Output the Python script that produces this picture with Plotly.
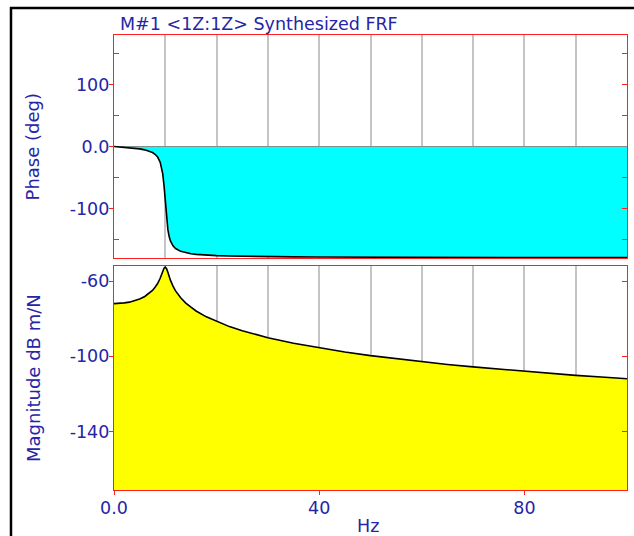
import plotly.graph_objects as go

# ---- data ----
freq_hz = [0, 1, 2, 3, 4, 5, 6, 7, 7.5, 8, 8.5, 9, 9.25, 9.5, 9.75, 10, 10.25, 10.5,
           10.75, 11, 11.5, 12, 13, 14, 15, 16, 18, 20, 22.5, 25, 27.5, 30, 35, 40,
           45, 50, 55, 60, 65, 70, 75, 80, 85, 90, 95, 100]
phase_deg = [0.0, -0.6, -1.2, -1.9, -2.7, -3.8, -5.4, -7.8, -9.7, -12.5, -17.0, -25.3,
             -32.6, -44.3, -63.1, -90.0, -116.3, -134.3, -145.4, -152.4, -160.4, -164.7,
             -169.3, -171.7, -173.2, -174.1, -175.4, -176.2, -176.8, -177.3, -177.6,
             -177.9, -178.2, -178.5, -178.7, -178.8, -178.9, -179.0, -179.1, -179.2,
             -179.2, -179.3, -179.3, -179.4, -179.4, -179.4]
magnitude_db = [-72.0, -71.9, -71.6, -71.2, -70.5, -69.5, -68.2, -66.2, -65.0, -63.3,
                -61.3, -58.5, -56.7, -54.7, -53.2, -52.6, -53.4, -55.3, -57.5, -59.5,
                -62.7, -65.2, -68.9, -71.7, -73.9, -75.9, -79.0, -81.5, -84.2, -86.4,
                -88.3, -90.1, -93.0, -95.5, -97.7, -99.6, -101.3, -102.9, -104.3,
                -105.6, -106.8, -108.0, -109.1, -110.1, -111.0, -111.9]

x_tick_vals = [0, 40, 80]
x_tick_text = ["0.0", "40", "80"]
phase_tick_vals = [-100, 0, 100]
phase_tick_text = ["-100", "0.0", "100"]
phase_minor_vals = [-150, -50, 50, 150]
phase_right_vals = [-150, -100, -50, 50, 100, 150]
mag_tick_vals = [-140, -100, -60]
mag_tick_text = ["-140", "-100", "-60"]

title_text = "M#1 <1Z:1Z> Synthesized FRF"
phase_label = "Phase (deg)"
mag_label = "Magnitude dB m/N"
x_label = "Hz"

X_RANGE = [0, 100]
PHASE_RANGE = [-180, 180]
MAG_RANGE = [-171, -52]

BLUE = "#2525a6"
RED = "#ff2020"
GRID = "#c4c4c4"
FONT = "DejaVu Sans"

fig = go.Figure()

# phase (top)
fig.add_trace(go.Scatter(x=freq_hz, y=phase_deg, mode="lines", fill="tozeroy",
                         fillcolor="#00ffff", line=dict(color="black", width=1.6),
                         xaxis="x", yaxis="y", showlegend=False, hoverinfo="skip"))
# magnitude (bottom) filled down to the axis floor
fig.add_trace(go.Scatter(x=[freq_hz[0], freq_hz[-1]], y=[MAG_RANGE[0]] * 2, mode="lines",
                         line=dict(width=0, color="rgba(0,0,0,0)"),
                         xaxis="x2", yaxis="y2", showlegend=False, hoverinfo="skip"))
fig.add_trace(go.Scatter(x=freq_hz, y=magnitude_db, mode="lines", fill="tonexty",
                         fillcolor="#ffff00", line=dict(color="black", width=1.6),
                         xaxis="x2", yaxis="y2", showlegend=False, hoverinfo="skip"))
# empty traces to activate right-hand tick axes
fig.add_trace(go.Scatter(x=[None], y=[None], xaxis="x", yaxis="y3", showlegend=False))
fig.add_trace(go.Scatter(x=[None], y=[None], xaxis="x2", yaxis="y4", showlegend=False))

tickfont = dict(family=FONT, size=17.5, color=BLUE)

common_x = dict(range=X_RANGE, showline=True, mirror=True, linecolor=RED, linewidth=1.2,
                showgrid=True, gridcolor=GRID, gridwidth=1.5, zeroline=False,
                tickvals=x_tick_vals, ticktext=x_tick_text, tickfont=tickfont,
                minor=dict(tickmode="linear", tick0=0, dtick=10, showgrid=True,
                           gridcolor=GRID, gridwidth=1.5, ticks=""))

fig.update_layout(
    width=634, height=536,
    margin=dict(l=114, r=7, t=35, b=46),
    paper_bgcolor="white", plot_bgcolor="white",
    showlegend=False,
    xaxis=dict(common_x, anchor="y", showticklabels=False, ticks=""),
    xaxis2=dict(common_x, anchor="y2", ticks="outside", ticklen=4, tickcolor=RED,
                tickwidth=1.2, ticklabelstandoff=-2),
    yaxis=dict(domain=[0.5099, 1], range=PHASE_RANGE, anchor="x",
               showline=True, mirror=True, linecolor=RED, linewidth=1.2,
               showgrid=False, zeroline=True, zerolinecolor=RED, zerolinewidth=1.2,
               tickvals=phase_tick_vals, ticktext=phase_tick_text, tickfont=tickfont,
               ticks="outside", ticklen=4, tickcolor=RED, tickwidth=1.2,
               ticklabelstandoff=-4,
               minor=dict(tickmode="array", tickvals=phase_minor_vals, ticks="inside",
                          ticklen=5, tickcolor=RED, tickwidth=1.2, showgrid=False)),
    yaxis2=dict(domain=[0, 0.4923], range=MAG_RANGE, anchor="x2",
                showline=True, mirror=True, linecolor=RED, linewidth=1.2,
                showgrid=False, zeroline=False,
                tickvals=mag_tick_vals, ticktext=mag_tick_text, tickfont=tickfont,
                ticks="outside", ticklen=4, tickcolor=RED, tickwidth=1.2,
                ticklabelstandoff=-4),
    yaxis3=dict(overlaying="y", side="right", anchor="x", range=PHASE_RANGE,
                tickvals=phase_right_vals, ticks="inside", ticklen=5, tickcolor=RED,
                tickwidth=1.2, showticklabels=False, showgrid=False, zeroline=False,
                showline=False),
    yaxis4=dict(overlaying="y2", side="right", anchor="x2", range=MAG_RANGE,
                tickvals=mag_tick_vals, ticks="inside", ticklen=5, tickcolor=RED,
                tickwidth=1.2, showticklabels=False, showgrid=False, zeroline=False,
                showline=False),
)

fig.add_annotation(text=title_text, xref="paper", yref="paper", x=0.0078, y=1.024,
                   xanchor="left", yanchor="middle", showarrow=False,
                   font=dict(family=FONT, size=17.5, color=BLUE))
fig.add_annotation(text=phase_label, xref="paper", yref="paper", x=-0.158,
                   y=(0.5099 + 1) / 2, textangle=-90, xanchor="center", yanchor="middle",
                   showarrow=False, font=dict(family=FONT, size=18, color=BLUE))
fig.add_annotation(text=mag_label, xref="paper", yref="paper", x=-0.158,
                   y=0.4923 / 2, textangle=-90, xanchor="center", yanchor="middle",
                   showarrow=False, font=dict(family=FONT, size=18, color=BLUE))
fig.add_annotation(text=x_label, xref="paper", yref="paper", x=0.495, y=-0.0791,
                   xanchor="center", yanchor="middle", showarrow=False,
                   font=dict(family=FONT, size=17.5, color=BLUE))

# outer window frame (left and top edges)
fig.add_shape(type="rect", xref="paper", yref="paper", x0=-0.2008, x1=1.2,
              y0=-0.3, y1=1.0593, line=dict(color="black", width=2.5),
              fillcolor="rgba(0,0,0,0)", layer="above")

fig.write_html("out.html",
               config={"displayModeBar": False},
               post_script="document.body.style.margin='0';"
                           "document.body.style.overflow='hidden';")
